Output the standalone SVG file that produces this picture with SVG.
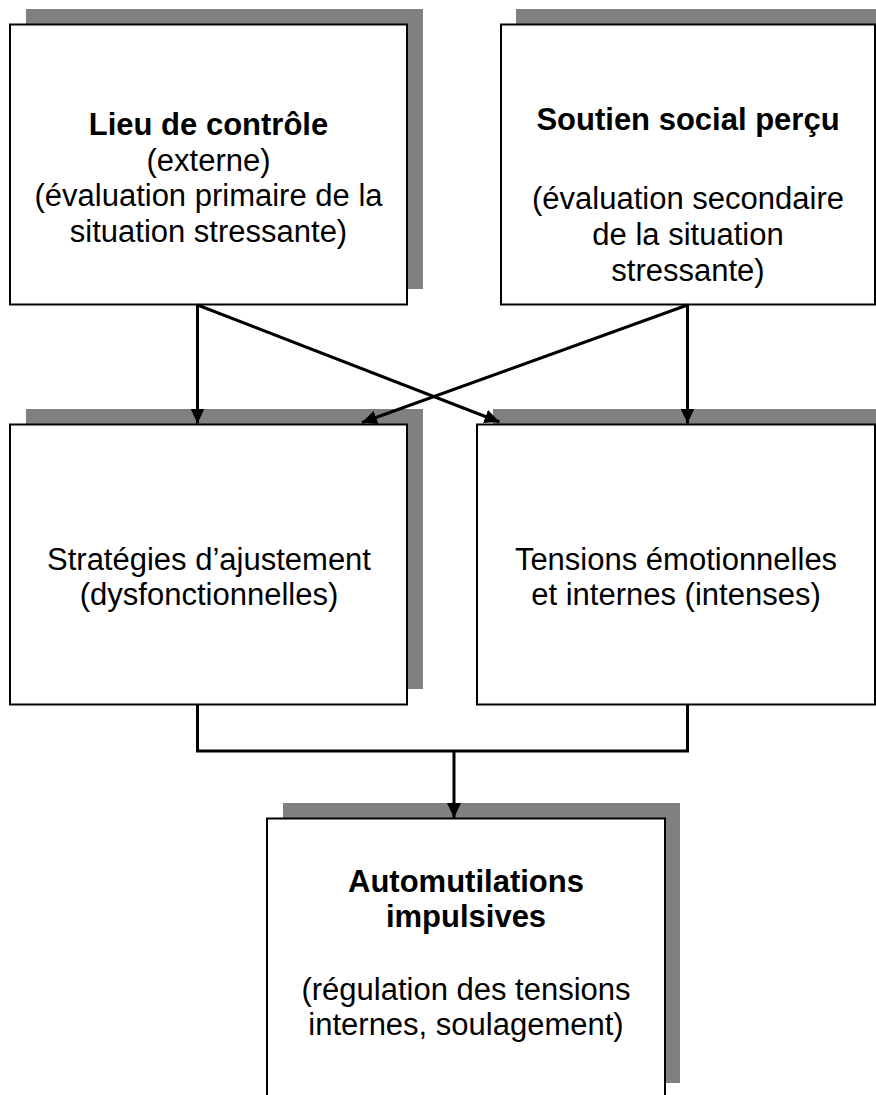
<svg xmlns="http://www.w3.org/2000/svg" width="876" height="1095" viewBox="0 0 876 1095">
  <style>
    .shadow { fill: #808080; stroke: none; }
    .box { fill: #ffffff; stroke: #000000; stroke-width: 2; }
    .t { font-family: "Liberation Sans", Arial, sans-serif; font-size: 31px; fill: #000000; text-anchor: middle; }
    .b { font-weight: bold; }
    .conn { fill: none; stroke: #000000; stroke-width: 3; }
  </style>
  <defs>
    <marker id="arrow" markerUnits="userSpaceOnUse" markerWidth="15" markerHeight="14" refX="15" refY="7" orient="auto" viewBox="0 0 15 14">
      <path d="M0,0 L15,7 L0,14 z" fill="#000000"/>
    </marker>
  </defs>
  <rect width="876" height="1095" fill="#ffffff"/>

  <g id="node-lieu">
    <rect class="shadow" x="26" y="9" width="397" height="280"/>
    <rect class="box" x="10" y="24.5" width="397" height="280"/>
    <text class="t b" x="208.5" y="135">Lieu de contrôle</text>
    <text class="t" x="208.5" y="170.5">(externe)</text>
    <text class="t" x="208.5" y="206">(évaluation primaire de la</text>
    <text class="t" x="208.5" y="241.5">situation stressante)</text>
  </g>

  <g id="node-soutien">
    <rect class="shadow" x="516" y="9" width="380" height="280"/>
    <rect class="box" x="501" y="24.5" width="374" height="280"/>
    <text class="t b" x="688" y="130">Soutien social perçu</text>
    <text class="t" x="688" y="209">(évaluation secondaire</text>
    <text class="t" x="688" y="245">de la situation</text>
    <text class="t" x="688" y="281">stressante)</text>
  </g>

  <g id="node-strategies">
    <rect class="shadow" x="26" y="409" width="397" height="280"/>
    <rect class="box" x="10" y="424.5" width="397" height="280"/>
    <text class="t" x="209" y="570">Stratégies d’ajustement</text>
    <text class="t" x="209" y="605">(dysfonctionnelles)</text>
  </g>

  <g id="node-tensions">
    <rect class="shadow" x="493" y="409" width="400" height="280"/>
    <rect class="box" x="477" y="424.5" width="398" height="280"/>
    <text class="t" x="676" y="570">Tensions émotionnelles</text>
    <text class="t" x="676" y="605">et internes (intenses)</text>
  </g>

  <g id="node-automutilations">
    <rect class="shadow" x="283" y="803" width="397" height="280"/>
    <rect class="box" x="267" y="818.5" width="398" height="290"/>
    <text class="t b" x="466" y="891.5">Automutilations</text>
    <text class="t b" x="466" y="927">impulsives</text>
    <text class="t" x="466" y="1000">(régulation des tensions</text>
    <text class="t" x="466" y="1035">internes, soulagement)</text>
  </g>

  <g id="connectors">
    <line class="conn" x1="197.5" y1="305" x2="197.5" y2="423.5" marker-end="url(#arrow)"/>
    <line class="conn" x1="687.5" y1="305" x2="687.5" y2="423.5" marker-end="url(#arrow)"/>
    <line class="conn" x1="197.5" y1="305" x2="499.5" y2="422" marker-end="url(#arrow)"/>
    <line class="conn" x1="687.5" y1="305" x2="362" y2="422.5" marker-end="url(#arrow)"/>
    <polyline class="conn" points="197.5,705 197.5,751 687.5,751 687.5,705"/>
    <line class="conn" x1="454" y1="751" x2="454" y2="818" marker-end="url(#arrow)"/>
  </g>
</svg>
